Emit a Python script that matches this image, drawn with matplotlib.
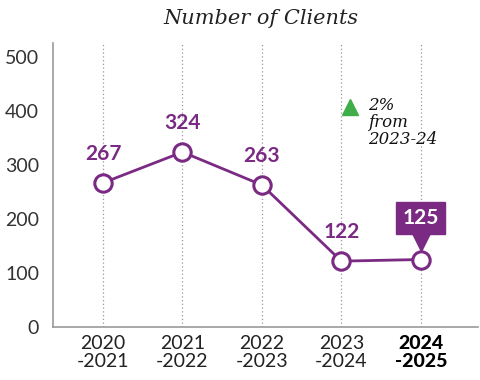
import matplotlib.pyplot as plt

years = ["2020\n-2021", "2021\n-2022", "2022\n-2023", "2023\n-2024", "2024\n-2025"]
clients = [267, 324, 263, 122, 125]
y_ticks = [0, 100, 200, 300, 400, 500]
change_text = "2%\nfrom\n2023-24"

purple = "#7b2a84"
green = "#3fae49"
label_font = "Lato"

fig = plt.figure(figsize=(4.81, 3.8), dpi=100)
ax = fig.add_axes([53 / 481, 53 / 380, (478 - 53) / 481, (327 - 43) / 380])

x = list(range(len(years)))
ax.set_xlim(-0.63, 4.72)
ax.set_ylim(0, 526)

for xi in x:
    ax.axvline(xi, color="#999999", lw=0.9, ls=(0, (1, 2)), zorder=0)

ax.plot(x, clients, color=purple, lw=2, zorder=2)
ax.plot(x, clients, "o", ms=12.5, mfc="white", mec=purple, mew=2.2, zorder=3)

# value labels, the latest one in a filled callout
for xi, v in zip(x[:-1], clients[:-1]):
    ax.annotate(str(v), (xi, v), xytext=(0, 21), textcoords="offset points",
                ha="center", va="center", color=purple, fontsize=15,
                fontweight="bold", family=label_font)
ax.annotate(str(clients[-1]), (x[-1], clients[-1]), xytext=(0, 30),
            textcoords="offset points", ha="center", va="center",
            color="white", fontsize=15, fontweight="bold", family=label_font,
            bbox=dict(boxstyle="square,pad=0.3", fc=purple, ec=purple))
ax.plot([x[-1]], [clients[-1] + 33], marker="v", ms=13, color=purple, zorder=4)

ax.plot([3.11], [408], marker="^", ms=12, color=green, clip_on=False)
ax.text(3.33, 426, change_text, ha="left", va="top", fontsize=12,
        style="italic", family="DejaVu Serif", linespacing=1.0, color="#111111")

ax.set_yticks(y_ticks)
ax.set_xticks(x)
ax.set_xticklabels(years, fontsize=14, family=label_font, color="#222222",
                   linespacing=1.05)
ax.get_xticklabels()[-1].set_fontweight("black")
ax.get_xticklabels()[-1].set_color("black")
for lbl in ax.get_yticklabels():
    lbl.set_fontsize(14)
    lbl.set_family(label_font)
    lbl.set_color("#333333")
ax.tick_params(length=0, pad=10)
ax.tick_params(axis="x", pad=6)

for side in ["top", "right"]:
    ax.spines[side].set_visible(False)
for side in ["left", "bottom"]:
    ax.spines[side].set_color("#999999")
    ax.spines[side].set_linewidth(1.2)

fig.text(0.5 + 20 / 481, 1 - 18 / 380, "Number of Clients", ha="center",
         va="center", fontsize=15, style="italic", family="DejaVu Serif",
         color="#222222")

fig.savefig("out.png", dpi=100)
